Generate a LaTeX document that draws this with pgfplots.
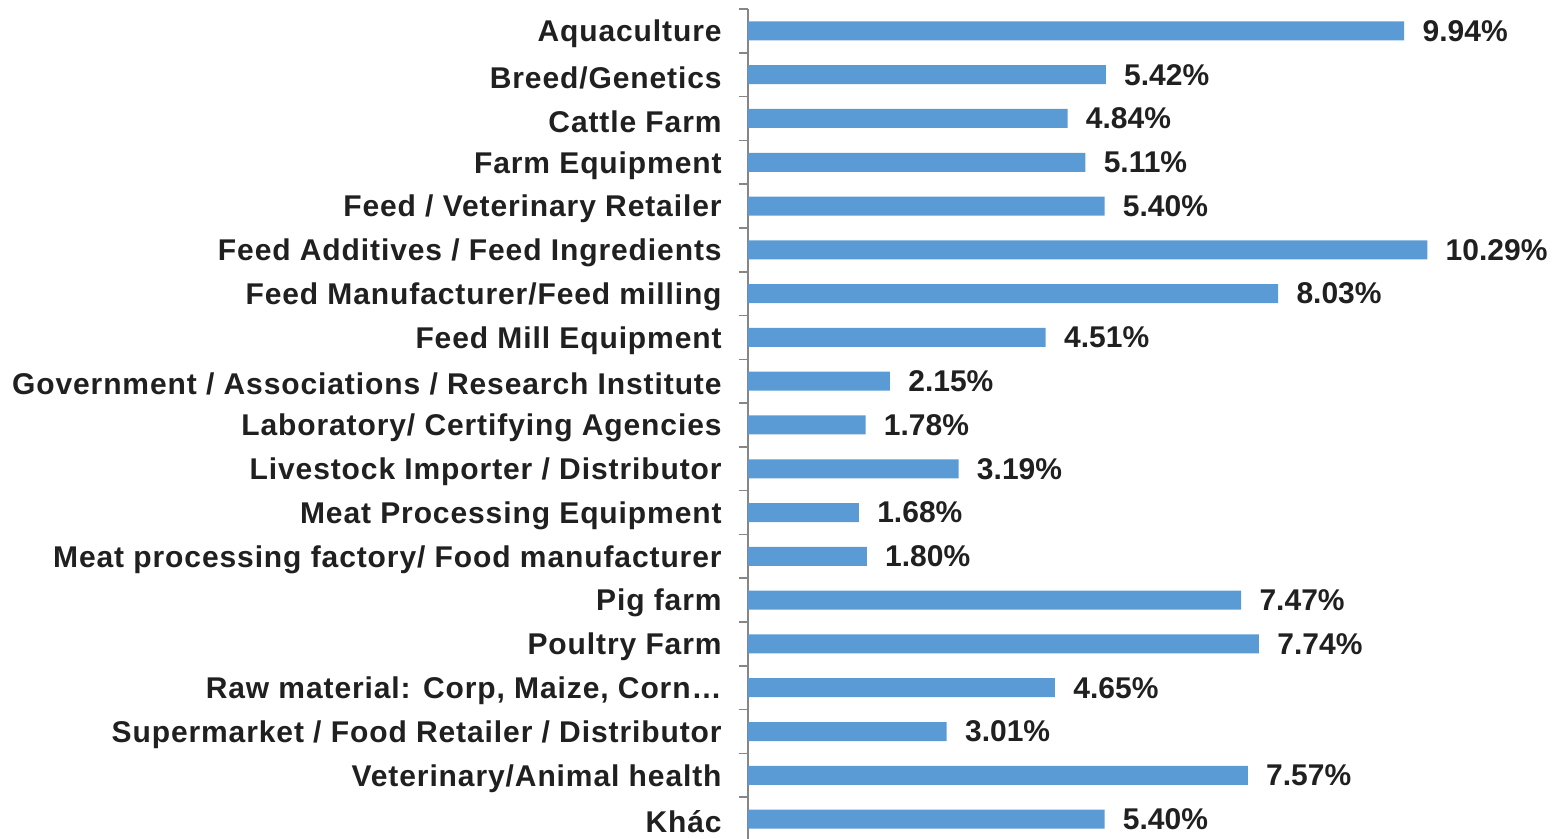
\documentclass[border=0pt]{standalone}
\usepackage{fontspec}
\setmainfont{Liberation Sans}
\newfontfamily\lblfont{Liberation Sans}[LetterSpace=3]
\usepackage{pgfplots}
\pgfplotsset{compat=1.18}
\definecolor{barblue}{HTML}{5B9BD5}
\definecolor{axgray}{HTML}{868686}
\definecolor{txt}{HTML}{202020}
\begin{document}
\begin{tikzpicture}
\begin{axis}[
  scale only axis,
  width=409pt, height=416pt,
  xbar, bar width=9.5pt,
  xmin=0, xmax=12.39,
  ymin=-0.5, ymax=18.5, y dir=reverse,
  axis x line=none,
  axis y line*=left,
  y axis line style={draw=axgray, line width=0.8pt},
  ytick={0,...,18},
  yticklabels={Aquaculture,Breed/Genetics,Cattle Farm,Farm Equipment,Feed / Veterinary Retailer,Feed Additives / Feed Ingredients,Feed Manufacturer/Feed milling,Feed Mill Equipment,Government / Associations / Research Institute,Laboratory/ Certifying Agencies,Livestock Importer / Distributor,Meat Processing Equipment,Meat processing factory/ Food manufacturer,Pig farm,Poultry Farm,{Raw material: Corp, Maize, Corn…},Supermarket / Food Retailer / Distributor,Veterinary/Animal health,Khác},
  major tick length=0pt,
  minor ytick={-0.5,0.5,...,18.5},
  minor tick length=4.5pt,
  tick align=outside,
  minor tick style={draw=axgray, line width=0.8pt},
  yticklabel style={font=\lblfont\fontsize{15}{18}\selectfont\bfseries, text=txt, inner sep=0pt, xshift=-13pt, yshift=-1.5pt},
  nodes near coords={\pgfmathprintnumber[fixed,fixed zerofill,precision=2,assume math mode=true]{\pgfplotspointmeta}\%},
  point meta=x,
  every node near coord/.append style={font=\fontsize{15}{18}\selectfont\bfseries, text=txt, anchor=west, inner sep=0pt, xshift=9pt},
  clip=false,
]
\addplot[fill=barblue, draw=none] coordinates {
(9.94,0) (5.42,1) (4.84,2) (5.11,3) (5.40,4) (10.29,5) (8.03,6) (4.51,7) (2.15,8) (1.78,9)
(3.19,10) (1.68,11) (1.80,12) (7.47,13) (7.74,14) (4.65,15) (3.01,16) (7.57,17) (5.40,18)
};
\coordinate (tl) at (rel axis cs:0,1);
\coordinate (br) at (rel axis cs:1,0);
\end{axis}
\pgfresetboundingbox
\path ([xshift=-374pt,yshift=4.5pt]tl) rectangle ([yshift=1pt]br);
\end{tikzpicture}
\end{document}
